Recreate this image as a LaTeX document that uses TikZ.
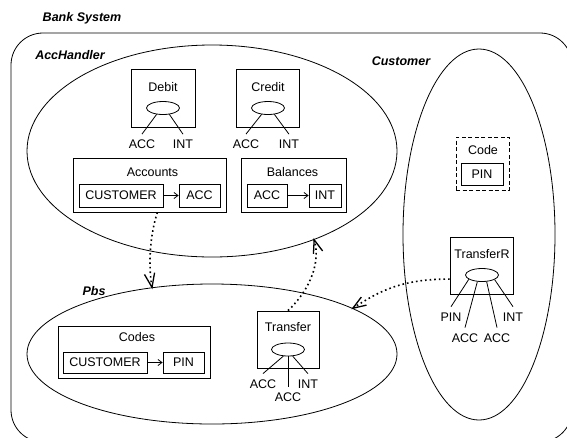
\documentclass[tikz,border=0pt]{standalone}
\usepackage{fontspec}
\setmainfont{Liberation Sans}
\usetikzlibrary{shapes.geometric,arrows.meta,calc}
\begin{document}
\begin{tikzpicture}[x=1pt,y=-1pt,
  font=\fontsize{12.5}{15}\selectfont,
  box/.style={draw, line width=0.8pt, inner sep=0pt},
  region/.style={draw, ellipse, line width=0.8pt, inner sep=0pt},
  port/.style={draw, ellipse, line width=0.8pt, minimum width=33pt, minimum height=13pt, inner sep=0pt},
  lbl/.style={inner sep=2pt, outer sep=4pt},
  title/.style={font=\fontsize{12.5}{15}\selectfont\bfseries\itshape},
  wire/.style={line width=0.8pt},
  link/.style={line width=1.6pt, dash pattern=on 1.6pt off 3pt},
  vtip/.style={line width=1.3pt, line join=miter},
  flow/.style={line width=0.8pt, -{Straight Barb[length=4pt,width=6pt]}}]

\useasboundingbox (0,0) rectangle (567,437);
\clip (0,0) rectangle (567,437);

% system frame
\node[title] (banktitle) at (82,18) {Bank System};
\draw[line width=0.8pt, rounded corners=32pt] (11,33) rectangle (572,442);

% regions
\node[region, minimum width=370pt, minimum height=212pt] (acch) at (212,151) {};
\node[region, minimum width=370pt, minimum height=140pt] (pbs) at (212,354) {};
\node[region, minimum width=152pt, minimum height=371pt] (cust) at (479,234.5) {};
\node[title] (acchtitle) at (70,55) {AccHandler};
\node[title] (pbstitle) at (94,291) {Pbs};
\node[title] (custtitle) at (401,61) {Customer};

% Debit
\node[box, minimum width=64pt, minimum height=58pt] (debit) at (163,98) {};
\node (debitname) at (163,87) {Debit};
\node[port] (debitport) at (163,108) {};
\node[lbl] (debitacc) at (142,144.5) {ACC};
\node[lbl] (debitint) at (183,144.5) {INT};
\draw[wire] (debitport.-135) -- (debitacc.north);
\draw[wire] (debitport.-45) -- (debitint.north);

% Credit
\node[box, minimum width=63pt, minimum height=58pt] (credit) at (267.5,98) {};
\node (creditname) at (268,87) {Credit};
\node[port] (creditport) at (268,108) {};
\node[lbl] (creditacc) at (246,144.5) {ACC};
\node[lbl] (creditint) at (289,144.5) {INT};
\draw[wire] (creditport.-135) -- (creditacc.north);
\draw[wire] (creditport.-45) -- (creditint.north);

% Accounts
\node[box, minimum width=153pt, minimum height=54pt] (accounts) at (149.5,185) {};
\node (accountsname) at (152.5,172) {Accounts};
\node[box, minimum width=84pt, minimum height=23pt] (acccust) at (121,195.5) {CUSTOMER};
\node[box, minimum width=41pt, minimum height=23pt] (accacc) at (199.5,195.5) {ACC};
\draw[flow] (acccust) -- (accacc);

% Balances
\node[box, minimum width=105pt, minimum height=54pt] (balances) at (293.5,185) {};
\node (balancesname) at (292.5,172) {Balances};
\node[box, minimum width=40pt, minimum height=23pt] (balacc) at (267,195.5) {ACC};
\node[box, minimum width=32pt, minimum height=23pt] (balint) at (325,195.5) {INT};
\draw[flow] (balacc) -- (balint);

% Code
\node[box, dashed, dash pattern=on 4pt off 2.5pt, minimum width=53pt, minimum height=53pt] (code) at (482.5,163.5) {};
\node (codename) at (483,150) {Code};
\node[box, minimum width=42pt, minimum height=22pt] (codepin) at (482,174) {PIN};

% TransferR
\node[box, minimum width=63pt, minimum height=57pt] (transr) at (481.5,265.5) {};
\node (transrname) at (482,254) {TransferR};
\node[port] (transrport) at (482,275) {};
\node[lbl] (trpin) at (451,317) {PIN};
\node[lbl] (trint) at (513,317) {INT};
\node[lbl] (tracca) at (465,338) {ACC};
\node[lbl] (traccb) at (497,338) {ACC};
\draw[wire] (transrport.-162) -- (trpin.north);
\draw[wire] (transrport.-125) -- (tracca.north);
\draw[wire] (transrport.-55) -- (traccb.north);
\draw[wire] (transrport.-20) -- (trint.north);

% Codes
\node[box, minimum width=152pt, minimum height=52pt] (codes) at (134,352) {};
\node (codesname) at (137,337) {Codes};
\node[box, minimum width=84pt, minimum height=21pt] (codescust) at (105,362.5) {CUSTOMER};
\node[box, minimum width=41pt, minimum height=21pt] (codespin) at (183.5,362.5) {PIN};
\draw[flow] (codescust) -- (codespin);

% Transfer
\node[box, minimum width=62pt, minimum height=57pt] (transfer) at (288,339.5) {};
\node (transfername) at (288,327) {Transfer};
\node[port] (transferport) at (288,349.5) {};
\node[lbl] (tacca) at (263,384) {ACC};
\node[lbl] (tint) at (308,384) {INT};
\node[lbl] (taccb) at (288,397) {ACC};
\draw[wire] (transferport.-125) -- (tacca.north);
\draw[wire] (transferport.-90) -- (taccb.north);
\draw[wire] (transferport.-55) -- (tint.north);

% dependencies between the modules: dotted curves with open V heads
\coordinate (ca) at (148,265);
\coordinate (cb) at (321,262);
\coordinate (cc) at (378,292);
\draw[link] (accounts.-74) .. controls (150,235) and (ca) .. (pbs.132.7);
\draw[vtip] ($(pbs.132.7)!15pt!20:(ca)$) -- (pbs.132.7) -- ($(pbs.132.7)!15pt!-20:(ca)$);
\draw[link] (transfer.north) .. controls (310,290) and (cb) .. (acch.-41.7);
\draw[vtip] ($(acch.-41.7)!14pt!20:(cb)$) -- (acch.-41.7) -- ($(acch.-41.7)!14pt!-20:(cb)$);
\draw[link] (transr.203) .. controls (400,279) and (cc) .. (pbs.18.1);
\draw[vtip] ($(pbs.18.1)!14pt!20:(cc)$) -- (pbs.18.1) -- ($(pbs.18.1)!14pt!-20:(cc)$);
\end{tikzpicture}
\end{document}
